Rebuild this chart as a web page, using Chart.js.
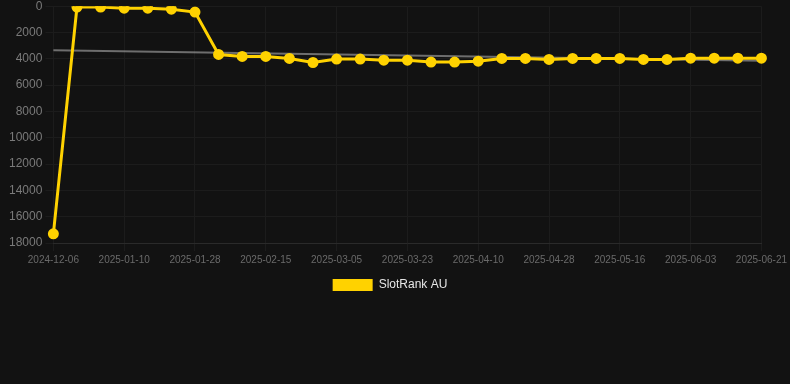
<!DOCTYPE html>
<html>
<head>
<meta charset="utf-8">
<script src="https://cdn.jsdelivr.net/npm/chart.js@4/dist/chart.umd.min.js"></script>
<style>
    html, body { margin: 0; padding: 0; background: #121212; overflow: hidden; }
    .chart-wrap { position: relative; width: 790px; height: 305px; margin-top: -4px; }
</style>
</head>
<body>
<div class="chart-wrap"><canvas id="rank-chart"></canvas></div>
<script>
const DATES = [
    '2024-12-06', '2024-12-29', '2025-01-04', '2025-01-10', '2025-01-16', '2025-01-22',
    '2025-01-28', '2025-02-03', '2025-02-09', '2025-02-15', '2025-02-21', '2025-02-27',
    '2025-03-05', '2025-03-11', '2025-03-17', '2025-03-23', '2025-03-29', '2025-04-04',
    '2025-04-10', '2025-04-16', '2025-04-22', '2025-04-28', '2025-05-04', '2025-05-10',
    '2025-05-16', '2025-05-22', '2025-05-28', '2025-06-03', '2025-06-09', '2025-06-15',
    '2025-06-21'
];

const RANK_AU = [
    17300, 60, 60, 150, 150, 230,
    450, 3670, 3820, 3820, 3970, 4280,
    4020, 4020, 4100, 4100, 4250, 4250,
    4180, 3970, 3970, 4050, 3970, 3970,
    3970, 4050, 4050, 3950, 3950, 3950,
    3950
];

// trend line: only the two ends are known, the library joins them
const TREND_START = 3340;
const TREND_END = 4140;
const trend = DATES.map((d, i) => i === 0 ? TREND_START : (i === DATES.length - 1 ? TREND_END : null));

const Y_TICKS = { min: 0, max: 18000, step: 2000 };

Chart.defaults.font.family = '"Liberation Sans", Arial, sans-serif';

// legend sits a little left of the canvas centre in the original
const legendNudge = {
    id: 'legendNudge',
    afterLayout(chart) {
        if (!chart.legend) return;
        chart.legend.left -= 7;
        chart.legend.right -= 7;
    }
};

new Chart(document.getElementById('rank-chart'), {
    type: 'line',
    data: {
        labels: DATES,
        datasets: [
            {
                label: 'SlotRank AU',
                data: RANK_AU,
                borderColor: '#ffd200',
                backgroundColor: '#ffd200',
                borderWidth: 3,
                pointRadius: 4,
                pointHoverRadius: 5,
                tension: 0,
            },
            {
                label: 'trend',
                data: trend,
                borderColor: 'rgba(150,150,150,0.7)',
                borderWidth: 2,
                pointRadius: 0,
                spanGaps: true,
            }
        ]
    },
    options: {
        responsive: true,
        maintainAspectRatio: false,
        animation: false,
        layout: { padding: { left: 6, right: 2 } },
        plugins: {
            legend: {
                position: 'bottom',
                labels: {
                    color: '#e6e6e6',
                    font: { size: 12 },
                    filter: item => item.text !== 'trend',
                    generateLabels: function(chart) {
                        const items = Chart.defaults.plugins.legend.labels.generateLabels(chart);
                        items.forEach(item => { item.lineWidth = 0; });
                        return items;
                    }
                }
            },
            tooltip: { enabled: false }
        },
        scales: {
            x: {
                grid: { color: '#1c1c1c' },
                border: { color: '#2a2a2a' },
                ticks: {
                    color: '#6a6a6a',
                    font: { size: 10 },
                    autoSkip: false,
                    maxRotation: 0,
                    callback: function(value, index) {
                        return index % 3 === 0 ? this.getLabelForValue(value) : null;
                    }
                }
            },
            y: {
                reverse: true,
                min: Y_TICKS.min,
                max: Y_TICKS.max,
                grid: { color: '#1c1c1c' },
                border: { display: false },
                ticks: {
                    color: '#7a7a7a',
                    font: { size: 12 },
                    stepSize: Y_TICKS.step,
                    callback: value => String(value)
                }
            }
        }
    },
    plugins: [legendNudge]
});
</script>
</body>
</html>
